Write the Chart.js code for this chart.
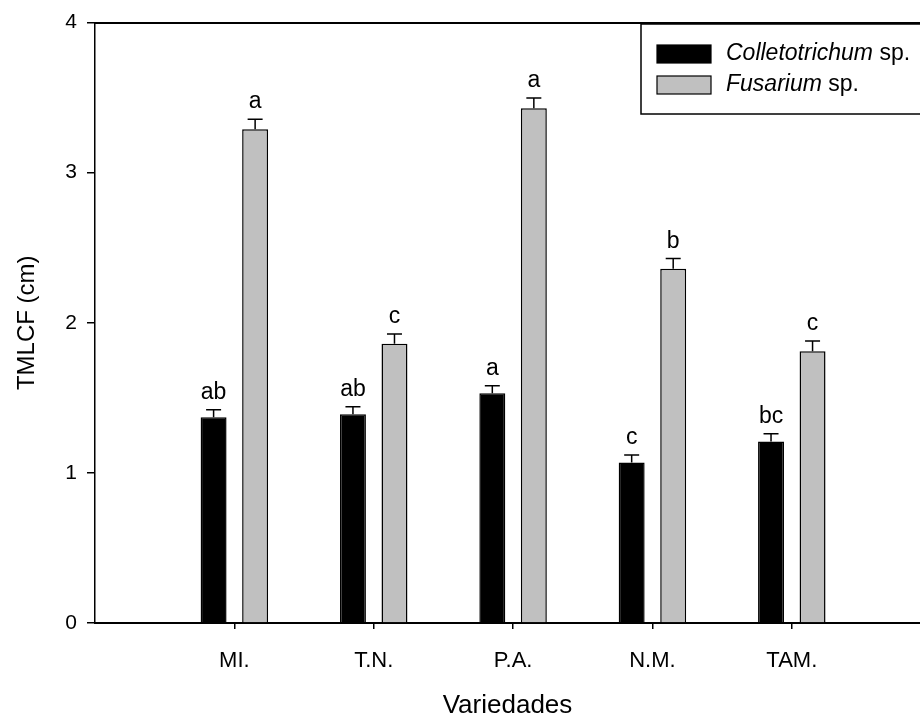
<!DOCTYPE html>
<html><head><meta charset="utf-8">
<script src="https://cdn.jsdelivr.net/npm/chart.js@4"></script>
<style>html,body{margin:0;padding:0;background:#fff}#wrap{width:920px;height:720px;position:relative}</style>
</head><body><div id="wrap"><canvas id="c" width="920" height="720"></canvas></div>
<script>
const categories = ['MI.', 'T.N.', 'P.A.', 'N.M.', 'TAM.'];
const colletotrichum = [1.37, 1.39, 1.53, 1.07, 1.21];
const colletotrichumErr = [0.05, 0.05, 0.05, 0.05, 0.05];
const fusarium = [3.29, 1.86, 3.43, 2.36, 1.81];
const fusariumErr = [0.066, 0.066, 0.068, 0.068, 0.068];
const colletotrichumLetters = ['ab', 'ab', 'a', 'c', 'bc'];
const fusariumLetters = ['a', 'c', 'a', 'b', 'c'];
const seriesItalic = ['Colletotrichum', 'Fusarium'];
const seriesSuffix = [' sp.', ' sp.'];
const yTicks = [0, 1, 2, 3, 4];

const FONT = "'Liberation Sans', Arial, sans-serif";
const errs = [colletotrichumErr, fusariumErr];
const letters = [colletotrichumLetters, fusariumLetters];

const errorPlugin = {
  id: 'errLetters',
  afterDatasetsDraw(chart) {
    const ctx = chart.ctx;
    const ys = chart.scales.y;
    ctx.save();
    ctx.strokeStyle = '#000';
    ctx.lineWidth = 1.5;
    ctx.fillStyle = '#000';
    ctx.font = '23px ' + FONT;
    ctx.textAlign = 'center';
    ctx.textBaseline = 'alphabetic';
    chart.data.datasets.forEach((ds, di) => {
      const meta = chart.getDatasetMeta(di);
      meta.data.forEach((bar, i) => {
        const v = ds.data[i].y;
        const x = bar.x;
        const yTop = ys.getPixelForValue(v);
        const yE = ys.getPixelForValue(v + errs[di][i]);
        ctx.beginPath();
        ctx.moveTo(x, yTop);
        ctx.lineTo(x, yE);
        ctx.moveTo(x - 7.5, yE);
        ctx.lineTo(x + 7.5, yE);
        ctx.stroke();
        ctx.fillText(letters[di][i], x, yE - 11);
      });
    });
    ctx.restore();
  }
};

const legendPlugin = {
  id: 'customLegend',
  afterDraw(chart) {
    const ctx = chart.ctx;
    ctx.save();
    ctx.strokeStyle = '#000';
    ctx.lineWidth = 1.5;
    ctx.fillStyle = '#fff';
    ctx.fillRect(641, 24, 290, 90);
    ctx.strokeRect(641, 24, 290, 90);
    const rows = [54, 85];
    chart.data.datasets.forEach((ds, di) => {
      const yc = rows[di];
      ctx.fillStyle = ds.backgroundColor;
      ctx.fillRect(657, yc - 9, 54, 18);
      ctx.lineWidth = 1.2;
      ctx.strokeStyle = '#000';
      ctx.strokeRect(657, yc - 9, 54, 18);
      ctx.fillStyle = '#000';
      ctx.textBaseline = 'middle';
      ctx.textAlign = 'left';
      ctx.font = 'italic 23px ' + FONT;
      ctx.fillText(seriesItalic[di], 726, yc);
      const w = ctx.measureText(seriesItalic[di]).width;
      ctx.font = '23px ' + FONT;
      ctx.fillText(seriesSuffix[di], 726 + w, yc);
    });
    ctx.restore();
  }
};

new Chart(document.getElementById('c'), {
  type: 'bar',
  data: {
    datasets: [
      {
        label: seriesItalic[0] + seriesSuffix[0],
        data: categories.map((c, i) => ({ x: i + 1, y: colletotrichum[i] })),
        backgroundColor: '#000000',
        borderColor: '#000000',
        borderWidth: 1.5,
        categoryPercentage: 0.596,
        barPercentage: 0.625
      },
      {
        label: seriesItalic[1] + seriesSuffix[1],
        data: categories.map((c, i) => ({ x: i + 1, y: fusarium[i] })),
        backgroundColor: '#c0c0c0',
        borderColor: '#000000',
        borderWidth: 1.5,
        categoryPercentage: 0.596,
        barPercentage: 0.625
      }
    ]
  },
  options: {
    responsive: false,
    animation: false,
    devicePixelRatio: 1,
    layout: { padding: 0 },
    plugins: { legend: { display: false }, tooltip: { enabled: false } },
    scales: {
      x: {
        type: 'linear',
        position: 'bottom',
        offset: false,
        min: 0,
        max: 5.92,
        afterBuildTicks: s => { s.ticks = categories.map((c, i) => ({ value: i + 1 })); },
        afterFit: s => { s.height = 97; },
        ticks: {
          callback: v => categories[v - 1],
          font: { size: 22, family: FONT },
          color: '#000',
          padding: 19,
          maxRotation: 0,
          autoSkip: false
        },
        grid: { offset: false, drawOnChartArea: false, drawTicks: true, tickLength: 6, color: '#000', lineWidth: 1.5 },
        border: { display: true, color: '#000', width: 2 },
        title: { display: true, text: 'Variedades', font: { size: 26, family: FONT, lineHeight: 1.0 }, color: '#000', padding: { top: 0, bottom: 1 } }
      },
      x2: {
        type: 'linear',
        position: 'top',
        display: true,
        offset: false,
        min: 0,
        max: 1,
        afterFit: s => { s.height = 20; },
        ticks: { display: false },
        grid: { display: false, drawTicks: false },
        border: { display: true, color: '#000', width: 2 }
      },
      y: {
        type: 'linear',
        min: 0,
        max: 4,
        afterBuildTicks: s => { s.ticks = yTicks.map(v => ({ value: v })); },
        afterFit: s => { s.width = 95; },
        ticks: { font: { size: 21, family: FONT }, color: '#000', padding: 10 },
        grid: { drawOnChartArea: false, drawTicks: true, tickLength: 8, color: '#000', lineWidth: 1.5 },
        border: { display: true, color: '#000', width: 1.5 },
        title: { display: true, text: 'TMLCF (cm)', font: { size: 24, family: FONT, lineHeight: 1.0 }, color: '#000', padding: { top: 15, bottom: 0 } }
      }
    }
  },
  plugins: [errorPlugin, legendPlugin]
});
</script>
</body></html>
